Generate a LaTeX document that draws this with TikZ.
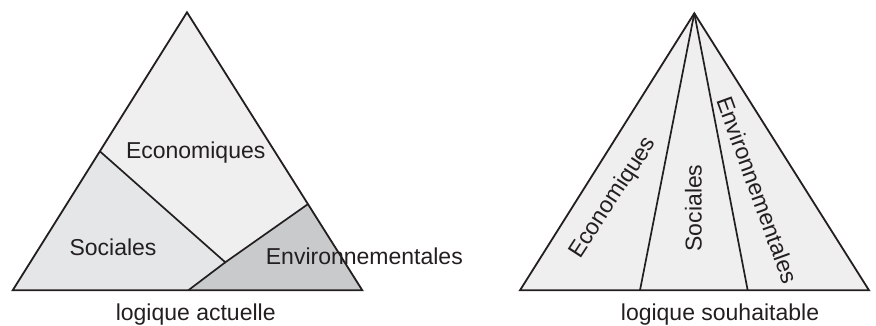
\documentclass[tikz,border=0pt]{standalone}
\usepackage{fontspec}
\setmainfont{Liberation Sans}
\usepackage{xcolor}
\usetikzlibrary{calc}
\definecolor{EcoGray}{HTML}{efefef}
\definecolor{SocGray}{HTML}{e5e6e7}
\definecolor{EnvGray}{HTML}{c9cacb}
\definecolor{LineGray}{HTML}{231f20}

\begin{document}
\begin{tikzpicture}[
    x=1pt, y=1pt,
    edge/.style={draw=LineGray, line width=1.8pt, line join=miter},
    part/.style={line width=1.7pt, draw=LineGray},
    zone/.style={font=\fontsize{23}{25}\selectfont, color=LineGray, inner sep=0pt},
    caption/.style={font=\fontsize{23}{25}\selectfont, color=LineGray, inner sep=0pt}
]
\useasboundingbox (0,0) rectangle (876,326);

% logique actuelle
\coordinate (a) at (187,313.7);
\coordinate (al) at (12.7,35.7);
\coordinate (ar) at (362.3,35.7);
\coordinate (p) at ($(a)!0.5!(al)$);
\coordinate (r) at ($(a)!0.69!(ar)$);
\coordinate (j) at (225.3,63.7);
\coordinate (m) at (188.3,35.7);

\fill[EcoGray] (a) -- (al) -- (ar) -- cycle;
\fill[SocGray] (p) -- (al) -- (m) -- (j) -- cycle;
\fill[EnvGray] (m) -- (ar) -- (r) -- (j) -- cycle;
\draw[part] (p) -- (j) -- (r);
\draw[part] (j) -- (m);
\draw[edge] (a) -- (al) -- (ar) -- cycle;

\node[zone] (eco1) at (195.7,173) {Economiques};
\node[zone] (soc1) at (113,79) {Sociales};
\node[zone, anchor=west] (env1) at (265.7,69.3) {Environnementales};
\node[caption] (cap1) at (195.7,11) {logique actuelle};

% logique souhaitable
\coordinate (b) at (694.3,312.7);
\coordinate (bl) at (520,35.7);
\coordinate (br) at (869,35.7);
\coordinate (b1) at (640,35.7);
\coordinate (b2) at (747.7,35.7);

\fill[EcoGray] (b) -- (bl) -- (br) -- cycle;
\draw[part] (b) -- (b1);
\draw[part] (b) -- (b2);
\draw[edge] (b) -- (bl) -- (br) -- cycle;

\node[zone, rotate=57] (eco2) at (613.3,128) {Economiques};
\node[zone, rotate=90] (soc2) at (693.3,118) {Sociales};
\node[zone, rotate=-70] (env2) at (757.5,136) {Environnementales};
\node[caption] (cap2) at (720,11) {logique souhaitable};

\end{tikzpicture}
\end{document}
